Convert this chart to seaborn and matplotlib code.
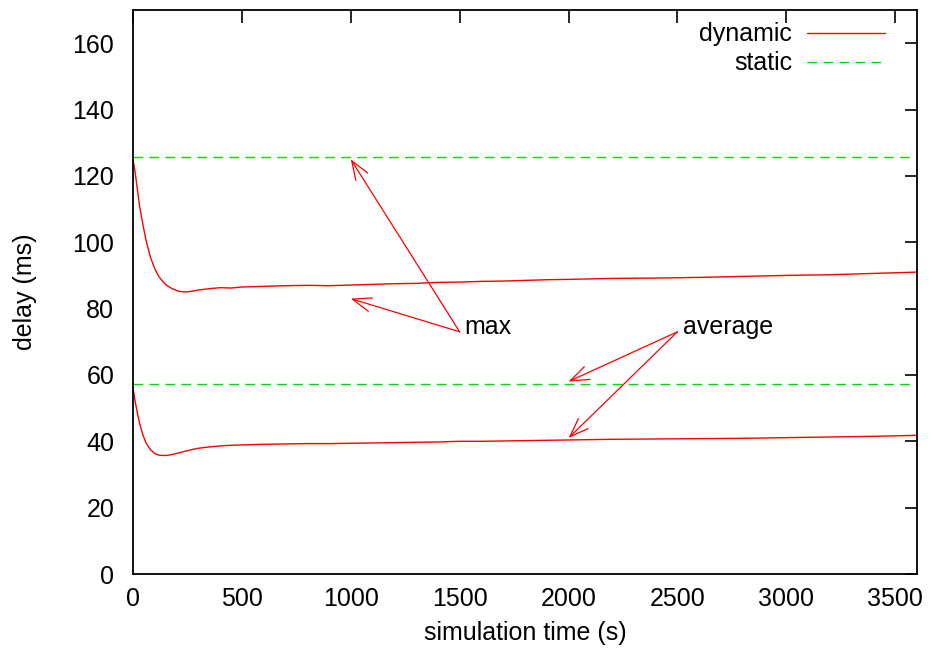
"""Delay over simulation time: dynamic vs static configuration."""

import matplotlib
matplotlib.use("Agg")
import matplotlib.pyplot as plt
import pandas as pd
import seaborn as sns

# sample times (s)
time_s = [0, 10, 20, 30, 45, 60, 80, 100, 120, 150, 180, 210, 240, 270, 300,
          350, 400, 450, 500, 600, 700, 800, 900, 1000, 1100, 1200, 1300, 1400,
          1500, 1600, 1700, 1800, 1900, 2000, 2200, 2400, 2600, 2800, 3000,
          3200, 3400, 3600]

# dynamic delay, max (ms)
dynamic_max = [125, 121, 116, 111, 105.5, 100.5, 95.5, 92, 89.5, 87.2, 86,
               85.2, 85, 85.2, 85.6, 86, 86.3, 86.2, 86.5, 86.7, 86.9, 87.0,
               86.9, 87.1, 87.3, 87.5, 87.6, 87.9, 88.0, 88.2, 88.3, 88.5,
               88.7, 88.8, 89.1, 89.2, 89.4, 89.7, 90.0, 90.2, 90.6, 91.0]

# dynamic delay, average (ms)
dynamic_avg = [56, 52, 48.5, 45.5, 42, 39.5, 37.5, 36.3, 35.8, 35.7, 36.0,
               36.5, 37.0, 37.5, 37.9, 38.3, 38.6, 38.8, 38.9, 39.1, 39.2,
               39.3, 39.3, 39.4, 39.5, 39.6, 39.7, 39.8, 40.0, 40.0, 40.1,
               40.2, 40.3, 40.4, 40.6, 40.7, 40.8, 40.9, 41.1, 41.3, 41.5, 41.8]

# static delay levels (ms)
static_max = 125.6
static_avg = 57.2

# annotations: label, arrow tail, text baseline position, arrow targets
annotations = [
    ("max", (1500, 73), (1523, 72.4), [(1000, 125), (1000, 83)]),
    ("average", (2500, 73), (2525, 72.4), [(2000, 58), (2000, 41)]),
]

FONT_SIZE = 18


def main() -> None:
    sns.set_theme(style="white")
    plt.rcParams["font.family"] = ["Liberation Sans", "DejaVu Sans"]
    plt.rcParams["font.size"] = FONT_SIZE
    plt.rcParams["text.color"] = "black"
    plt.rcParams["axes.labelcolor"] = "black"

    df = pd.DataFrame({"time": time_s, "max": dynamic_max, "average": dynamic_avg})

    fig, ax = plt.subplots(figsize=(9.33, 6.61), dpi=100)
    fig.subplots_adjust(left=133 / 933, right=917 / 933, top=1 - 10 / 661,
                        bottom=1 - 574 / 661)

    sns.lineplot(data=df, x="time", y="max", color="#ff0000", lw=1.0, ax=ax,
                 label="dynamic", estimator=None)
    sns.lineplot(data=df, x="time", y="average", color="#ff0000", lw=1.0, ax=ax,
                 estimator=None)
    dash = (0, (7, 4.5))
    ax.axhline(static_max, color="#00dd00", lw=1.0, ls=dash, label="static")
    ax.axhline(static_avg, color="#00dd00", lw=1.0, ls=dash)

    for label, tail, text_pos, targets in annotations:
        for target in targets:
            ax.annotate("", xy=target, xytext=tail,
                        arrowprops=dict(arrowstyle="->,head_length=0.75,head_width=0.28",
                                        color="#ff0000", lw=0.9,
                                        shrinkA=0, shrinkB=0))
        ax.text(text_pos[0], text_pos[1], label, fontsize=FONT_SIZE,
                ha="left", va="baseline")

    ax.set_xlim(0, 3600)
    ax.set_ylim(0, 170)
    ax.set_xticks(range(0, 3501, 500))
    ax.set_yticks(range(0, 161, 20))
    ax.set_xlabel("simulation time (s)", fontsize=FONT_SIZE)
    ax.set_ylabel("delay (ms)", fontsize=FONT_SIZE)
    ax.xaxis.set_label_coords(0.5, -0.083)
    ax.yaxis.set_label_coords(-0.1225, 0.5)

    for spine in ax.spines.values():
        spine.set_visible(True)
        spine.set_color("black")
        spine.set_linewidth(1.3)
    ax.tick_params(direction="in", length=9, width=1.2, top=True, right=True,
                   labelsize=FONT_SIZE, colors="black")
    ax.tick_params(axis="y", pad=13.5)
    ax.tick_params(axis="x", pad=9.5)

    handles, labels = ax.get_legend_handles_labels()
    ax.legend(handles, labels, loc="upper right", frameon=False, markerfirst=False,
              handlelength=3.1, handletextpad=0.6, fontsize=FONT_SIZE,
              borderaxespad=0, borderpad=0, labelspacing=0.2,
              bbox_to_anchor=(0.959, 0.978))

    fig.savefig("out.png", dpi=100)
    plt.close(fig)


if __name__ == "__main__":
    main()
